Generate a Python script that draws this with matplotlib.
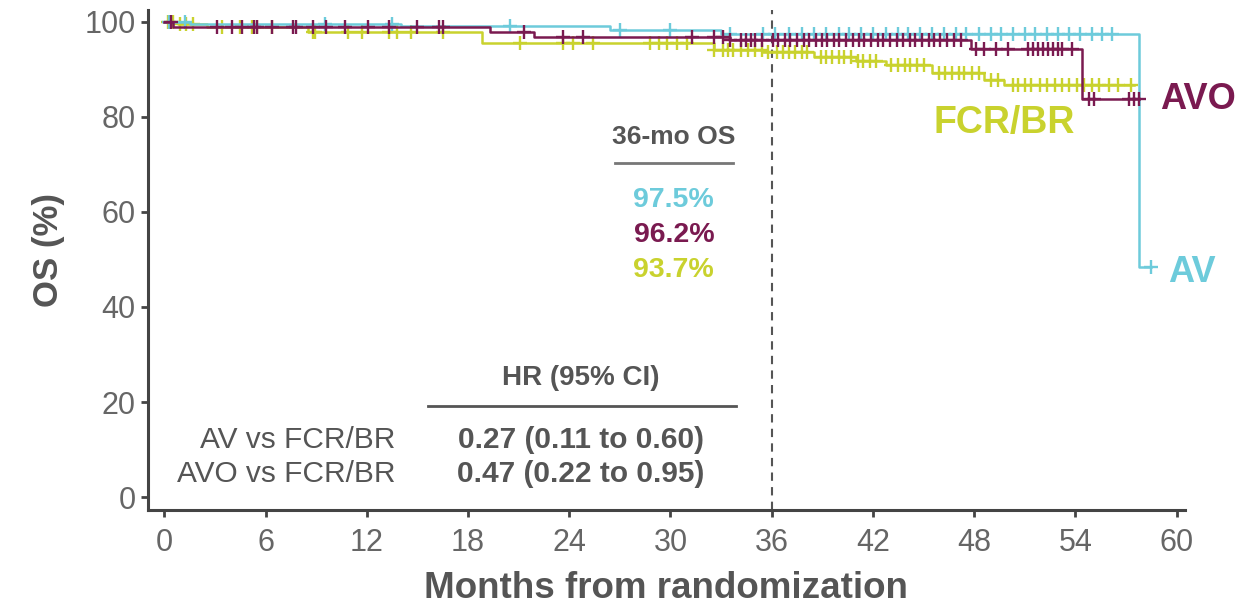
import numpy as np
import matplotlib
matplotlib.use("Agg")
import matplotlib.pyplot as plt

# colours
AV_COLOR = "#6dcbdb"
AVO_COLOR = "#7a1a50"
FCR_COLOR = "#c9d22e"
TEXT_GRAY = "#555555"

# Kaplan-Meier steps (months, OS %)
av_times = [0, 1.5, 14.0, 26.4, 33.0, 57.8]
av_surv = [100, 99.4, 99.0, 98.3, 97.5, 48.4]
av_end = 58.5
av_censor = [0.3, 1.2, 9.5, 13.5, 20.5, 27.0, 30.0, 33.5, 35.5, 36.2, 37.0, 37.8, 38.5,
             39.2, 40.0, 40.6, 41.3, 42.0, 42.8, 43.5, 44.1, 44.8, 45.5, 46.2, 46.9,
             47.5, 48.3, 49.0, 49.6, 50.3, 51.0, 51.6, 52.3, 53.0, 53.6, 54.3, 55.0,
             55.6, 56.2, 58.5]

avo_times = [0, 0.5, 19.3, 21.9, 33.5, 47.8, 54.4]
avo_surv = [100, 98.9, 97.9, 96.8, 96.2, 94.2, 83.8]
avo_end = 57.8
avo_censor = [0.4, 3.1, 4.0, 4.6, 5.3, 5.5, 6.4, 7.6, 7.8, 8.8, 9.6, 10.7, 12.1, 13.3,
              15.0, 16.3, 16.5, 21.3, 23.6, 24.8, 31.3, 32.6, 33.1, 33.5, 34.2, 34.5,
              34.8, 35.0, 35.4, 36.1, 36.4, 36.8, 37.1, 37.5, 37.9, 38.2, 38.6, 39.0,
              39.3, 39.7, 40.0, 40.4, 40.8, 41.2, 41.5, 41.9, 42.3, 42.6, 43.0, 43.4,
              43.8, 44.2, 44.5, 44.9, 45.3, 45.6, 46.0, 46.4, 46.8, 47.2, 48.1, 48.6,
              49.3, 50.0, 51.2, 51.5, 51.8, 52.1, 52.4, 52.7, 53.0, 53.2, 53.8, 54.8,
              55.1, 57.2, 57.5, 57.8]

fcr_times = [0, 0.8, 2.5, 8.5, 18.8, 32.6, 35.5, 38.5, 41.0, 42.8, 45.5, 48.6, 49.8]
fcr_surv = [100, 99.4, 98.8, 97.8, 95.6, 94.0, 93.7, 92.6, 91.8, 90.8, 89.3, 87.8, 86.6]
fcr_end = 57.5
fcr_censor = [0.2, 0.5, 0.9, 1.3, 1.7, 3.4, 4.5, 5.2, 5.5, 6.4, 8.8, 8.9, 10.9, 11.7,
              13.3, 13.8, 14.6, 16.5, 21.1, 23.6, 24.2, 25.4, 28.8, 29.3, 29.8, 30.4,
              31.0, 32.6, 33.1, 33.4, 33.7, 34.2, 34.6, 35.0, 35.4, 35.8, 36.3, 36.7,
              37.0, 37.4, 37.8, 38.1, 38.9, 39.2, 39.6, 40.0, 40.3, 40.7, 41.1, 41.4,
              41.8, 42.2, 43.1, 43.5, 43.9, 44.2, 44.6, 45.0, 45.9, 46.3, 46.7, 47.1,
              47.4, 47.9, 48.3, 49.0, 49.4, 50.3, 50.6, 51.0, 51.4, 51.9, 52.3, 52.8,
              53.2, 53.6, 54.1, 54.5, 55.0, 55.4, 56.0, 56.5, 57.3]

os36_values = ["97.5%", "96.2%", "93.7%"]
hr_rows = ["AV vs FCR/BR", "AVO vs FCR/BR"]
hr_values = ["0.27 (0.11 to 0.60)", "0.47 (0.22 to 0.95)"]
x_ticks = [0, 6, 12, 18, 24, 30, 36, 42, 48, 54, 60]
y_ticks = [0, 20, 40, 60, 80, 100]

SANS = ["Liberation Sans", "DejaVu Sans"]
plt.rcParams["font.family"] = SANS


def step_value(times, surv, t):
    idx = np.searchsorted(times, t, side="right") - 1
    return np.asarray(surv)[idx]


def draw_arm(ax, times, surv, end, censor, color):
    xs = list(times) + [end]
    ys = list(surv) + [surv[-1]]
    ax.step(xs, ys, where="post", color=color, linewidth=1.8, zorder=3)
    cy = step_value(times, surv, censor)
    ax.plot(censor, cy, "+", color=color, markersize=10, markeredgewidth=1.7, zorder=3)


fig = plt.figure(figsize=(12.5, 6.1), dpi=100)
ax = fig.add_axes([0.118, 0.164, 0.83, 0.82])

draw_arm(ax, fcr_times, fcr_surv, fcr_end, fcr_censor, FCR_COLOR)
draw_arm(ax, av_times, av_surv, av_end, av_censor, AV_COLOR)
draw_arm(ax, avo_times, avo_surv, avo_end, avo_censor, AVO_COLOR)

ax.axvline(36, color="#555555", linestyle=(0, (4, 3)), linewidth=1.5, zorder=1)

ax.set_xlim(-1.0, 60.5)
ax.set_ylim(-2.7, 102.5)
ax.set_xticks(x_ticks)
ax.set_yticks(y_ticks)
ax.spines["top"].set_visible(False)
ax.spines["right"].set_visible(False)
for s in ["left", "bottom"]:
    ax.spines[s].set_linewidth(2.2)
    ax.spines[s].set_color("#444444")
ax.tick_params(width=2, length=5, color="#444444", labelcolor="#666666", labelsize=22)
ax.tick_params(axis="x", pad=8)

ax.set_xlabel("Months from randomization", fontsize=26.5, fontweight="bold",
              color=TEXT_GRAY, labelpad=9)
ax.set_ylabel("OS (%)", fontsize=25, fontweight="bold", color=TEXT_GRAY, labelpad=14)
ax.yaxis.label.set_y(0.52)

# 36-month OS box
ax.text(30.2, 75.8, "36-mo OS", ha="center", va="center", fontsize=19,
        fontweight="bold", color=TEXT_GRAY)
ax.plot([26.7, 33.7], [70.3, 70.3], color="#777777", linewidth=2)
for val, color, y in zip(os36_values, [AV_COLOR, AVO_COLOR, FCR_COLOR], [62.5, 55.1, 47.8]):
    ax.text(30.2, y, val, ha="center", va="center", fontsize=20.5, fontweight="bold",
            color=color)

# HR table
ax.text(24.7, 25.0, "HR (95% CI)", ha="center", va="center", fontsize=20,
        fontweight="bold", color=TEXT_GRAY)
ax.plot([15.6, 33.9], [19.2, 19.2], color="#555555", linewidth=2)
for row, val, y in zip(hr_rows, hr_values, [12.0, 4.8]):
    ax.text(13.7, y, row, ha="right", va="center", fontsize=21.5, color=TEXT_GRAY)
    ax.text(24.7, y, val, ha="center", va="center", fontsize=21.5, fontweight="bold",
            color=TEXT_GRAY)

# arm labels
ax.text(59.0, 83.6, "AVO", ha="left", va="center", fontsize=26, fontweight="bold",
        color=AVO_COLOR, clip_on=False)
ax.text(49.8, 78.7, "FCR/BR", ha="center", va="center", fontsize=27, fontweight="bold",
        color=FCR_COLOR)
ax.text(59.5, 47.3, "AV", ha="left", va="center", fontsize=26, fontweight="bold",
        color=AV_COLOR, clip_on=False)

fig.savefig("out.png", dpi=100)
